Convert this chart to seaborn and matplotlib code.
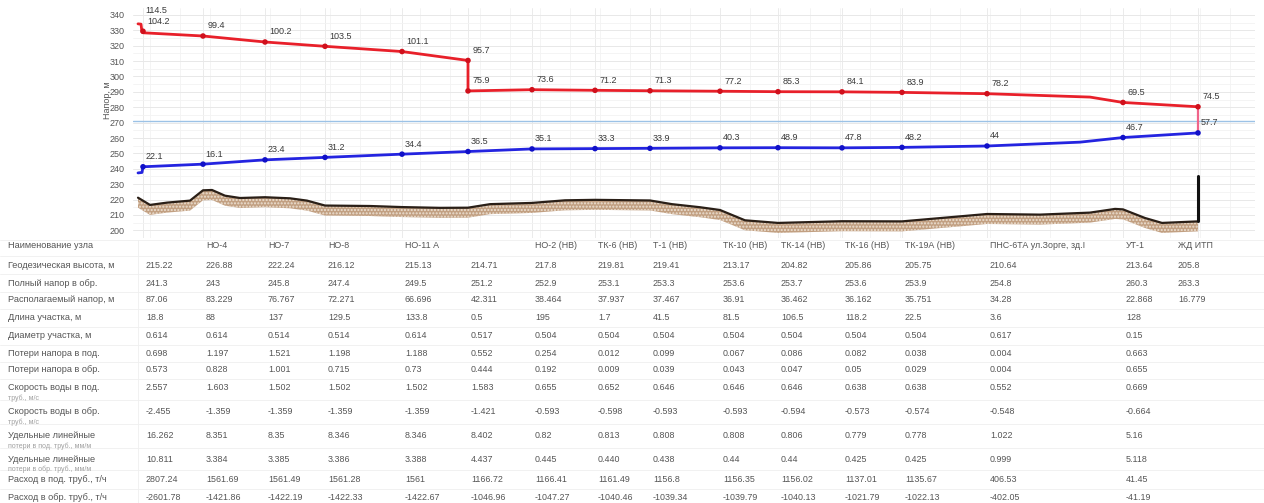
import matplotlib
matplotlib.use('Agg')
import matplotlib.pyplot as plt
import matplotlib.transforms as mtransforms
from matplotlib.lines import Line2D
import numpy as np
import seaborn as sns

# --- данные пьезометрического графика ---
# положения узлов вдоль трассы (условные единицы схемы)
node_pos = [143, 203, 265, 325, 402, 468, 532, 595, 650, 720, 778, 842, 902, 987, 1123, 1198]

# подающий трубопровод (линия)
supply_pos = [138, 141, 142, 143, 203, 265, 325, 402, 468, 468, 532, 595, 650, 720, 778, 842, 902, 987, 1090, 1123, 1198]
supply_head = [334.2, 334.0, 328.8, 328.4, 326.3, 322.4, 319.6, 316.2, 310.4, 290.6, 291.4, 291.0, 290.7, 290.4,
               290.1, 290.0, 289.65, 288.8, 286.6, 283.1, 280.3]
# подающий трубопровод (точки и подписи)
supply_pt_pos = [141, 143, 203, 265, 325, 402, 468, 468, 532, 595, 650, 720, 778, 842, 902, 987, 1123, 1198]
supply_pt_head = [333.0, 329.4, 326.3, 322.4, 319.6, 316.2, 310.4, 290.6, 291.4, 291.0, 290.7, 290.4,
                  290.1, 290.0, 289.65, 288.8, 283.1, 280.3]
supply_labels = ['114.5', '104.2', '99.4', '100.2', '103.5', '101.1', '95.7', '75.9', '73.6', '71.2', '71.3',
                 '77.2', '85.3', '84.1', '83.9', '78.2', '69.5', '74.5']

# обратный трубопровод
return_pos = [138, 142, 143, 203, 265, 325, 402, 468, 532, 595, 650, 720, 778, 842, 902, 987, 1080, 1123, 1198]
return_head = [237.3, 237.6, 241.3, 243.0, 245.8, 247.4, 249.5, 251.2, 252.9, 253.1, 253.3, 253.6, 253.7,
               253.6, 253.9, 254.8, 257.3, 260.3, 263.3]
return_node_head = [241.3, 243.0, 245.8, 247.4, 249.5, 251.2, 252.9, 253.1, 253.3, 253.6, 253.7,
                    253.6, 253.9, 254.8, 260.3, 263.3]
return_labels = ['22.1', '16.1', '23.4', '31.2', '34.4', '36.5', '35.1', '33.3', '33.9', '40.3', '48.9',
                 '47.8', '48.2', '44', '46.7', '57.7']

static_head = 270.8

# профиль местности
ground_pos = [138, 150, 167, 190, 203, 212, 225, 240, 265, 290, 307, 325, 370, 402, 440, 468, 490, 532, 565,
              595, 650, 672, 700, 720, 745, 778, 842, 902, 950, 987, 1040, 1090, 1115, 1123, 1145, 1162, 1198]
ground_z = [221.2, 216.5, 218.0, 219.3, 226.0, 226.2, 222.5, 221.0, 221.5, 220.8, 219.3, 216.1, 215.8, 215.1,
            214.6, 214.7, 217.0, 217.8, 219.5, 219.8, 219.4, 217.0, 215.0, 213.2, 206.5, 204.8, 205.9, 205.8,
            208.5, 210.6, 210.2, 211.5, 213.9, 213.6, 208.0, 204.8, 205.8]
end_column_top = 235.0

# --- таблица ---
row_names = ['Наименование узла', 'Геодезическая высота, м', 'Полный напор в обр.', 'Располагаемый напор, м',
             'Длина участка, м', 'Диаметр участка, м', 'Потери напора в под.', 'Потери напора в обр.',
             'Скорость воды в под.\nтруб., м/с', 'Скорость воды в обр.\nтруб., м/с',
             'Удельные линейные\nпотери в под. труб., мм/м', 'Удельные линейные\nпотери в обр. труб., мм/м',
             'Расход в под. труб., т/ч', 'Расход в обр. труб., т/ч']

node_names = ['', 'НО-4', 'НО-7', 'НО-8', 'НО-11 А', '', 'НО-2 (НВ)', 'ТК-6 (НВ)', 'Т-1 (НВ)', 'ТК-10 (НВ)',
              'ТК-14 (НВ)', 'ТК-16 (НВ)', 'ТК-19А (НВ)', 'ПНС-6ТА ул.Зорге, зд.I', 'УТ-1', 'ЖД ИТП']
geo_height = ['215.22', '226.88', '222.24', '216.12', '215.13', '214.71', '217.8', '219.81', '219.41', '213.17',
              '204.82', '205.86', '205.75', '210.64', '213.64', '205.8']
return_full = ['241.3', '243', '245.8', '247.4', '249.5', '251.2', '252.9', '253.1', '253.3', '253.6', '253.7',
               '253.6', '253.9', '254.8', '260.3', '263.3']
avail_head = ['87.06', '83.229', '76.767', '72.271', '66.696', '42.311', '38.464', '37.937', '37.467', '36.91',
              '36.462', '36.162', '35.751', '34.28', '22.868', '16.779']
seg_length = ['18.8', '88', '137', '129.5', '133.8', '0.5', '195', '1.7', '41.5', '81.5', '106.5', '118.2',
              '22.5', '3.6', '128', '']
seg_diam = ['0.614', '0.614', '0.514', '0.514', '0.614', '0.517', '0.504', '0.504', '0.504', '0.504', '0.504',
            '0.504', '0.504', '0.617', '0.15', '']
loss_supply = ['0.698', '1.197', '1.521', '1.198', '1.188', '0.552', '0.254', '0.012', '0.099', '0.067', '0.086',
               '0.082', '0.038', '0.004', '0.663', '']
loss_return = ['0.573', '0.828', '1.001', '0.715', '0.73', '0.444', '0.192', '0.009', '0.039', '0.043', '0.047',
               '0.05', '0.029', '0.004', '0.655', '']
vel_supply = ['2.557', '1.603', '1.502', '1.502', '1.502', '1.583', '0.655', '0.652', '0.646', '0.646', '0.646',
              '0.638', '0.638', '0.552', '0.669', '']
vel_return = ['-2.455', '-1.359', '-1.359', '-1.359', '-1.359', '-1.421', '-0.593', '-0.598', '-0.593', '-0.593',
              '-0.594', '-0.573', '-0.574', '-0.548', '-0.664', '']
spec_supply = ['16.262', '8.351', '8.35', '8.346', '8.346', '8.402', '0.82', '0.813', '0.808', '0.808', '0.806',
               '0.779', '0.778', '1.022', '5.16', '']
spec_return = ['10.811', '3.384', '3.385', '3.386', '3.388', '4.437', '0.445', '0.440', '0.438', '0.44', '0.44',
               '0.425', '0.425', '0.999', '5.118', '']
flow_supply = ['2807.24', '1561.69', '1561.49', '1561.28', '1561', '1166.72', '1166.41', '1161.49', '1156.8',
               '1156.35', '1156.02', '1137.01', '1135.67', '406.53', '41.45', '']
flow_return = ['-2601.78', '-1421.86', '-1422.19', '-1422.33', '-1422.67', '-1046.96', '-1047.27', '-1040.46',
               '-1039.34', '-1039.79', '-1040.13', '-1021.79', '-1022.13', '-402.05', '-41.19', '']

table_rows = [node_names, geo_height, return_full, avail_head, seg_length, seg_diam, loss_supply, loss_return,
              vel_supply, vel_return, spec_supply, spec_return, flow_supply, flow_return]

# --- оформление ---
sns.set_theme(style='white')
plt.rcParams['font.family'] = ['Liberation Sans', 'DejaVu Sans']

W, H = 1264, 503
fig = plt.figure(figsize=(W / 100, H / 100), dpi=100)
ax = fig.add_axes([133 / W, 1 - 238 / H, (1255 - 133) / W, (238 - 8) / H])
ax.set_xlim(133, 1255)
ax.set_ylim(196.8, 344.5)

# сетка
ax.set_yticks(np.arange(200, 341, 10))
ax.set_yticks(np.arange(195, 345, 5), minor=True)
ax.set_xticks([])
for x in np.arange(150, 1255, 30):
    ax.axvline(x, color='#f3f3f3', lw=0.6, zorder=0)
for x in node_pos:
    ax.axvline(x, color='#ebebeb', lw=0.7, zorder=0)
ax.grid(axis='y', which='major', color='#e8e8e8', lw=0.7)
ax.grid(axis='y', which='minor', color='#f3f3f3', lw=0.6)
ax.set_axisbelow(True)
for s in ax.spines.values():
    s.set_visible(False)
ax.tick_params(axis='y', which='major', labelsize=6.5, labelcolor='#555555', length=0, pad=6)
ax.tick_params(axis='y', which='minor', length=0)
ax.set_ylabel('Напор, м', fontsize=6.5, color='#555555', labelpad=2)
ax.yaxis.set_label_coords(-0.019, 0.6)

# статический напор
ax.axhline(static_head, color='#9cc2e6', lw=1.0, zorder=1)

# земля
gz = np.array(ground_z)
ax.fill_between(ground_pos, gz - 6.5, gz, facecolor='#c2a082', edgecolor='#ece0d3', hatch='.....',
                lw=0, zorder=2)
sns.lineplot(x=ground_pos, y=ground_z, sort=False, estimator=None, color='#2a1f17', lw=1.6, ax=ax, zorder=3)
ax.plot([ground_pos[-1], ground_pos[-1]], [ground_z[-1], end_column_top], color='#111111', lw=2.2, zorder=3)

# линии напора
sns.lineplot(x=supply_pos, y=supply_head, sort=False, estimator=None, color='#e8202a', lw=2.0, ax=ax, zorder=4)
sns.lineplot(x=return_pos, y=return_head, sort=False, estimator=None, color='#2424e0', lw=2.0, ax=ax, zorder=4)
ax.plot([supply_pos[-1], return_pos[-1]], [supply_head[-1], return_head[-1]], color='#f0648a', lw=1.6, zorder=4)

sns.scatterplot(x=supply_pt_pos[1:], y=supply_pt_head[1:], color='#d0101c', s=16, edgecolor='none', ax=ax, zorder=5)
sns.scatterplot(x=node_pos, y=return_node_head, color='#1010c8', s=16, edgecolor='none', ax=ax, zorder=5)

for i, (x, y, t) in enumerate(zip(supply_pt_pos, supply_pt_head, supply_labels)):
    dy = 7.5 if i == 0 else 4
    ax.annotate(t, (x, y), xytext=(3, dy), textcoords='offset points', fontsize=6.5, color='#3a3a3a',
                ha='left', va='bottom', zorder=6)
for x, y, t in zip(node_pos, return_node_head, return_labels):
    ax.annotate(t, (x, y), xytext=(2, 4), textcoords='offset points', fontsize=6.5, color='#3a3a3a',
                ha='left', va='bottom', zorder=6)

# таблица под графиком
trans = mtransforms.blended_transform_factory(ax.transData, fig.transFigure)
row_y = [246, 265, 283, 300, 318, 336, 354, 370, 388, 412, 436, 459, 480, 497]
for i, (name, vals) in enumerate(zip(row_names, table_rows)):
    yf = 1 - row_y[i] / H
    lines = name.split('\n')
    fig.text(8 / W, yf, lines[0], fontsize=6.6, color='#555555', ha='left', va='center')
    if len(lines) > 1:
        fig.text(8 / W, yf - 10 / H, lines[1], fontsize=5, color='#a0a0a0', ha='left', va='center')
    for x, v in zip(node_pos, vals):
        fig.text(min(x + 3, 1178), yf, v, fontsize=6.4, color='#555555', ha='left', va='center',
                 transform=trans)

# линии таблицы
bounds = [240, 256, 274, 292, 309, 327, 345, 362, 379, 400, 424, 448, 470, 489, 503]
for b in bounds:
    fig.add_artist(Line2D([0, 1], [1 - b / H, 1 - b / H], color='#efefef', lw=0.6))
fig.add_artist(Line2D([138 / W, 138 / W], [0, 1 - 240 / H], color='#efefef', lw=0.6))

fig.savefig('out.png', dpi=100)
